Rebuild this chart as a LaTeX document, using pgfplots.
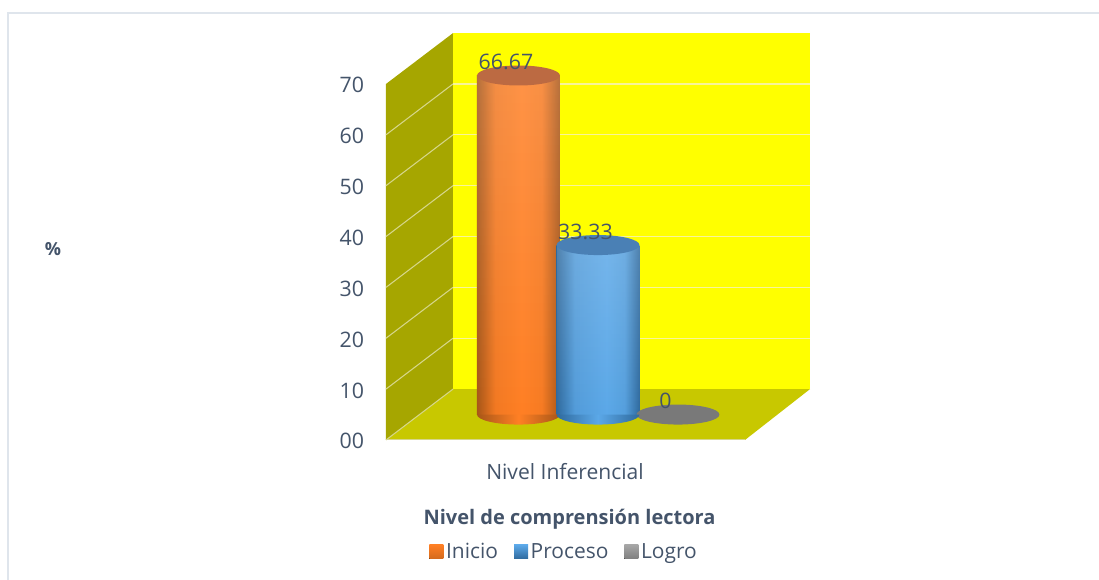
\documentclass[border=0pt]{standalone}
\usepackage{fontspec}
\setmainfont{Open Sans}
\usepackage{pgfplots}
\pgfplotsset{compat=1.18}
\usetikzlibrary{fadings}
\definecolor{txt}{HTML}{44546A}
\definecolor{backwall}{HTML}{FFFF00}
\definecolor{sidewall}{HTML}{A6A600}
\definecolor{floorc}{HTML}{C8C800}
\definecolor{gridside}{HTML}{D6D68A}
\definecolor{gridback}{HTML}{F8F49A}
\definecolor{frameline}{HTML}{DFE5EC}
\definecolor{orE}{HTML}{A85618}
\definecolor{orM}{HTML}{FF7F24}
\definecolor{orC}{HTML}{BC6A42}
\definecolor{blE}{HTML}{2F6A9E}
\definecolor{blM}{HTML}{5BA8E8}
\definecolor{blC}{HTML}{4A80B5}

% cylinder bodies: dark edges, light in the middle
\pgfdeclarehorizontalshading{orcyl}{100bp}{color(0bp)=(orE); color(25bp)=(orE); color(36bp)=(orM!85!orE); color(52bp)=(orM); color(64bp)=(orM!90!orE); color(75bp)=(orE); color(100bp)=(orE)}
\pgfdeclarehorizontalshading{blcyl}{100bp}{color(0bp)=(blE); color(25bp)=(blE); color(36bp)=(blM!80!blE); color(55bp)=(blM); color(66bp)=(blM!85!blE); color(75bp)=(blE); color(100bp)=(blE)}
\tikzfading[name=topglow, top color=transparent!84, bottom color=transparent!100]
\pgfdeclareplotmark{capmark}{\pgfpathellipse{\pgfpointorigin}{\pgfqpoint{31.1pt}{0pt}}{\pgfqpoint{0pt}{7.5pt}}\pgfusepathqfill}
% lower half of the disc at the foot of a cylinder
\pgfdeclareplotmark{basemark}{\shade[draw=none,left color=orE,right color=orE,middle color=orM] (-31.1pt,0pt) arc [start angle=180,end angle=360,x radius=31.1pt,y radius=7.5pt] -- cycle;}
\pgfdeclareplotmark{basemarkb}{\shade[draw=none,left color=blE,right color=blE,middle color=blM] (-31.1pt,0pt) arc [start angle=180,end angle=360,x radius=31.1pt,y radius=7.5pt] -- cycle;}

\tikzset{lift/.style={yshift=19.05pt}}

\begin{document}
\begin{tikzpicture}
\begin{axis}[
  at={(0,0)}, anchor=origin,
  scale only axis, width=269.25pt, height=267pt,
  xmin=0, xmax=359, ymin=0, ymax=70,
  clip=false,
  axis line style={draw=none},
  tick style={draw=none},
  ytick={0,10,20,30,40,50,60,70},
  yticklabels={00,10,20,30,40,50,60,70},
  xtick={179}, xticklabels={Nivel Inferencial},
  tick label style={text=txt},
  yticklabel style={font=\fontsize{16}{18}\selectfont, anchor=east, xshift=-13pt, yshift=-1pt},
  xticklabel style={font=\fontsize{15.8}{18}\selectfont, anchor=center, yshift=-23.5pt},
  xlabel={\textbf{Nivel de comprensión lectora}},
  ylabel={\textbf{\%}},
  every axis x label/.style={at={(axis cs:183.5,-15.5)},anchor=center,text=txt,font=\fontsize{15}{17}\selectfont},
  every axis y label/.style={at={(axis cs:-333,37.55)},anchor=center,text=txt,font=\fontsize{13.5}{15}\selectfont},
  legend style={at={(axis cs:178.5,-22)},anchor=center,draw=none,fill=none,text=txt,
    font=\fontsize{15.7}{17}\selectfont, legend columns=3,
    /tikz/every odd column/.style={column sep=0pt},
    /tikz/every even column/.style={column sep=10pt}},
  legend cell align=left,
  legend image code/.code={\fill[#1, draw=none] (0pt,-5.25pt) rectangle (10.5pt,5.25pt);},
  /pgf/number format/assume math mode=true,
  /pgf/number format/fixed,
  /pgf/number format/precision=2,
]
% page size and frame
\path (axis cs:-386,-27.53) rectangle (axis cs:713,86.51);
\draw[overlay, color=frameline, line width=1.5pt] (axis cs:-378,-27.53) -- (axis cs:-378,83.96) -- (axis cs:713,83.96);

% walls and floor
\addplot[forget plot, fill=sidewall, draw=none] coordinates {(0,0) (67,10) (67,80) (0,70)} -- cycle;
\addplot[forget plot, fill=backwall, draw=none] coordinates {(67,10) (424,10) (424,80) (67,80)} -- cycle;
\addplot[forget plot, fill=floorc, draw=none] coordinates {(0,0) (67,10) (424,10) (359,0)} -- cycle;
% grid lines
\addplot[forget plot, gridback, line width=1pt] coordinates {(67,20) (424,20)};
\addplot[forget plot, gridback, line width=1pt] coordinates {(67,30) (424,30)};
\addplot[forget plot, gridback, line width=1pt] coordinates {(67,40) (424,40)};
\addplot[forget plot, gridback, line width=1pt] coordinates {(67,50) (424,50)};
\addplot[forget plot, gridback, line width=1pt] coordinates {(67,60) (424,60)};
\addplot[forget plot, gridback, line width=1pt] coordinates {(67,70) (424,70)};
\addplot[forget plot, gridside, line width=0.8pt] coordinates {(0,0) (67,10)};
\addplot[forget plot, gridside, line width=0.8pt] coordinates {(0,10) (67,20)};
\addplot[forget plot, gridside, line width=0.8pt] coordinates {(0,20) (67,30)};
\addplot[forget plot, gridside, line width=0.8pt] coordinates {(0,30) (67,40)};
\addplot[forget plot, gridside, line width=0.8pt] coordinates {(0,40) (67,50)};
\addplot[forget plot, gridside, line width=0.8pt] coordinates {(0,50) (67,60)};
\addplot[forget plot, gridside, line width=0.8pt] coordinates {(0,60) (67,70)};
\addplot[forget plot, gridside, line width=0.8pt] coordinates {(0,0) (359,0)};

% Logro: height 0, only the disc
\addplot[forget plot, only marks, lift, mark=capmark, mark options={fill=gray!95!black, draw=none}] coordinates {(292,0)};

% Inicio
\addplot[forget plot, only marks, lift, mark=basemark] coordinates {(132.5,0)};
\addplot[forget plot, ybar, bar width=62.25pt, bar shift=0pt, lift, draw=none, shading=orcyl] coordinates {(132.5,66.67)};
\addplot[forget plot, ybar, bar width=62.25pt, bar shift=0pt, lift, draw=none, fill=white, path fading=topglow] coordinates {(132.5,66.67)};
\addplot[forget plot, only marks, lift, mark=capmark, mark options={fill=orC}] coordinates {(132.5,66.67)};

% Proceso
\addplot[forget plot, only marks, lift, mark=basemarkb] coordinates {(212,0)};
\addplot[forget plot, ybar, bar width=62.25pt, bar shift=0pt, lift, draw=none, shading=blcyl] coordinates {(212,33.33)};
\addplot[forget plot, ybar, bar width=62.25pt, bar shift=0pt, lift, draw=none, fill=white, path fading=topglow] coordinates {(212,33.33)};
\addplot[forget plot, only marks, lift, mark=capmark, mark options={fill=blC}] coordinates {(212,33.33)};

% value labels
\addplot[forget plot, only marks, lift, mark=none,
  nodes near coords, every node near coord/.style={anchor=center, xshift=-9.4pt, yshift=10.2pt, text=txt, font=\fontsize{16}{18}\selectfont}]
  coordinates {(132.5,66.67) (212,33.33) (292,0)};

% legend
\addlegendimage{top color=orM, bottom color=orE!50!orM}
\addlegendentry{Inicio}
\addlegendimage{top color=blM, bottom color=blE}
\addlegendentry{Proceso}
\addlegendimage{top color=gray!70, bottom color=gray}
\addlegendentry{Logro}
\end{axis}
\end{tikzpicture}
\end{document}
